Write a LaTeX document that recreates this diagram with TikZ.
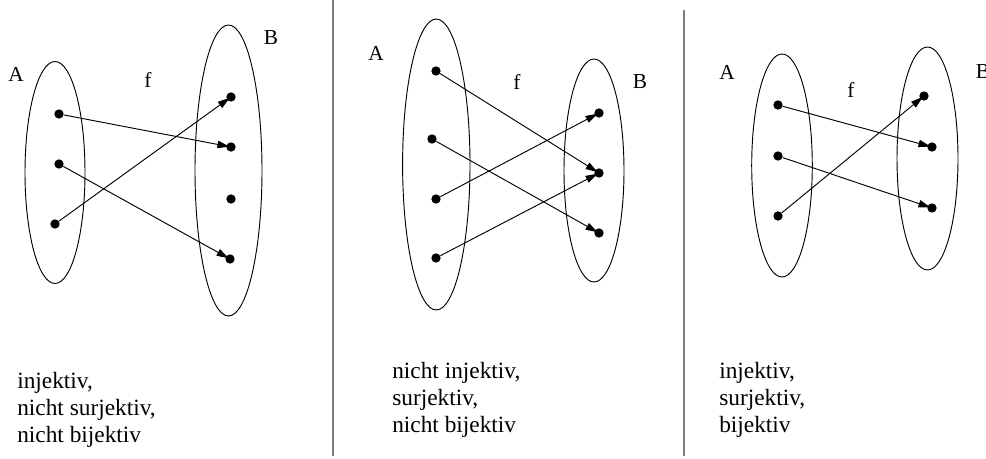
\documentclass[tikz,border=0pt]{standalone}
\usepackage{fontspec}
\setmainfont{Liberation Serif}
\usetikzlibrary{arrows.meta}
\begin{document}
\begin{tikzpicture}[x=0.75pt,y=-0.75pt,
  dot/.style={circle,fill=black,inner sep=0pt,minimum size=7pt},
  set/.style={draw=black,line width=0.7pt},
  map/.style={draw=black,line width=0.7pt,-{Triangle[length=9pt,width=5.5pt]},shorten >=-2.5pt},
  lbl/.style={font=\fontsize{16}{19}\selectfont,inner sep=0pt},
  txt/.style={font=\fontsize{17.5}{20.25}\selectfont,inner sep=0pt,align=left,anchor=north west},
  sep/.style={draw=gray,line width=0.9pt}]
\useasboundingbox (0,0) rectangle (986,459);
% separators
\coordinate (s1t) at (333,0); \coordinate (s1b) at (333,456);
\coordinate (s2t) at (684,10); \coordinate (s2b) at (684,456);
\draw[sep] (s1t) -- (s1b);
\draw[sep] (s2t) -- (s2b);
% ---------- panel 1 ----------
\draw[set] (55,172.5) ellipse [x radius=30, y radius=111];
\draw[set] (228.5,170.5) ellipse [x radius=33.5, y radius=145.5];
\node[lbl] (pA1) at (16,74) {A};
\node[lbl] (pB1) at (271,38) {B};
\node[lbl] (pf1) at (148,80) {f};
\node[dot] (a11) at (59,114) {};
\node[dot] (a12) at (59,164) {};
\node[dot] (a13) at (55,224) {};
\node[dot] (b11) at (231,97) {};
\node[dot] (b12) at (231,147) {};
\node[dot] (b13) at (231,199) {};
\node[dot] (b14) at (230,259) {};
\draw[map] (a11) -- (b12);
\draw[map] (a12) -- (b14);
\draw[map] (a13) -- (b11);
\node[txt] (t1) at (17,372) {injektiv,\\nicht surjektiv,\\nicht bijektiv};
% ---------- panel 2 ----------
\draw[set] (436.3,164.5) ellipse [x radius=33.7, y radius=145.5];
\draw[set] (594,170.5) ellipse [x radius=30, y radius=111.5];
\node[lbl] (pA2) at (376,53) {A};
\node[lbl] (pB2) at (640,82) {B};
\node[lbl] (pf2) at (517,82) {f};
\node[dot] (a21) at (436,71) {};
\node[dot] (a22) at (432,139) {};
\node[dot] (a23) at (436,199) {};
\node[dot] (a24) at (436,258) {};
\node[dot] (b21) at (599,113) {};
\node[dot] (b22) at (599,173) {};
\node[dot] (b23) at (599,233) {};
\draw[map] (a21) -- (b22);
\draw[map] (a22) -- (b23);
\draw[map] (a23) -- (b21);
\draw[map] (a24) -- (b22);
\node[txt] (t2) at (392,362) {nicht injektiv,\\surjektiv,\\nicht bijektiv};
% ---------- panel 3 ----------
\draw[set] (782,165.5) ellipse [x radius=30.3, y radius=111.5];
\draw[set] (927.5,158.5) ellipse [x radius=30.5, y radius=111.5];
\node[lbl] (pA3) at (727,72) {A};
\node[lbl] (pB3) at (983,72) {B};
\node[lbl] (pf3) at (851,90) {f};
\node[dot] (a31) at (778,105) {};
\node[dot] (a32) at (778,156) {};
\node[dot] (a33) at (778,216) {};
\node[dot] (b31) at (924,96) {};
\node[dot] (b32) at (932,147) {};
\node[dot] (b33) at (932,208) {};
\draw[map] (a31) -- (b32);
\draw[map] (a32) -- (b33);
\draw[map] (a33) -- (b31);
\node[txt] (t3) at (719,362) {injektiv,\\surjektiv,\\bijektiv};
\end{tikzpicture}
\end{document}
